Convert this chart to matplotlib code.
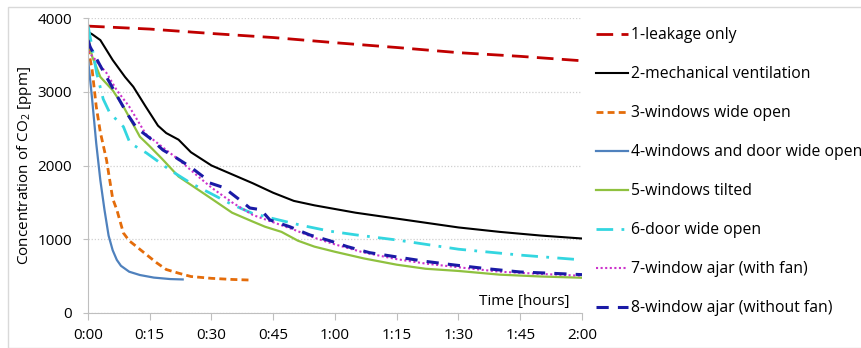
import matplotlib
matplotlib.use("Agg")
import matplotlib.pyplot as plt
from matplotlib.patches import Rectangle

plt.rcParams['font.family'] = ['Open Sans', 'DejaVu Sans']
plt.rcParams['mathtext.fontset'] = 'custom'
plt.rcParams['mathtext.rm'] = 'Open Sans'

# time in minutes, CO2 in ppm
t1 = [0, 15, 30, 45, 60, 75, 90, 105, 120]
v1 = [3890, 3850, 3790, 3735, 3665, 3600, 3530, 3480, 3420]

t2 = [0, 1, 3, 6, 9, 11, 14, 17, 19, 22, 25, 30, 35, 40, 45, 50, 55, 60, 65, 70, 75, 80, 90, 100, 110, 120]
v2 = [3810, 3780, 3700, 3430, 3200, 3068, 2800, 2540, 2440, 2350, 2180, 2000, 1880, 1760, 1630, 1520, 1460, 1410, 1360, 1320, 1280, 1240, 1160, 1100, 1050, 1010]

t3 = [0, 1, 2, 3, 4.5, 6, 7, 8.6, 10, 11.8, 14, 16.7, 19, 22, 25, 30, 35, 39.3]
v3 = [3600, 3300, 2800, 2450, 2075, 1550, 1400, 1085, 980, 900, 800, 680, 590, 540, 495, 470, 455, 447]

t4 = [0, 1, 2, 3, 4, 5, 6, 7, 8, 10, 12.6, 16, 20, 23]
v4 = [3450, 2900, 2300, 1800, 1400, 1050, 850, 720, 640, 560, 515, 480, 460, 455]

t5 = [0, 1, 3, 6, 8.6, 12.6, 15, 18, 22, 26, 30, 35, 40, 43, 47, 51, 55, 60, 67, 75, 82, 90, 100, 110, 120]
v5 = [3750, 3480, 3200, 3020, 2800, 2390, 2260, 2090, 1850, 1700, 1550, 1360, 1240, 1170, 1100, 980, 900, 830, 740, 655, 600, 570, 520, 495, 478]

t6 = [0, 1, 2.1, 3.7, 5.3, 8.6, 10.2, 14.2, 19.9, 25, 29.6, 35, 40, 45, 51.5, 58.7, 65, 75, 90, 105, 120]
v6 = [3900, 3600, 3254, 2900, 2712, 2526, 2305, 2170, 1939, 1760, 1627, 1470, 1350, 1280, 1193, 1110, 1060, 990, 865, 785, 720]

t7 = [0, 2, 4.5, 7, 10, 14, 19, 22, 27, 30, 35, 40, 45, 50, 55, 60, 67, 75, 82, 90, 100, 110, 120]
v7 = [3550, 3420, 3254, 3020, 2800, 2430, 2210, 2080, 1840, 1700, 1500, 1330, 1230, 1130, 1020, 930, 820, 730, 670, 620, 560, 530, 505]

t8 = [0, 0.5, 3, 6, 9.4, 11.8, 15, 18.2, 21.5, 24.8, 28, 29.6, 33, 36.9, 39.3, 42, 44.2, 49, 53.9, 58.7, 63, 68.4, 75, 82, 89, 97, 105, 112, 120]
v8 = [3700, 3610, 3350, 3050, 2712, 2509, 2373, 2210, 2102, 1984, 1848, 1763, 1700, 1532, 1424, 1400, 1261, 1170, 1058, 980, 900, 818, 760, 700, 651, 600, 556, 540, 520]

labels = ["1-leakage only", "2-mechanical ventilation", "3-windows wide open",
          "4-windows and door wide open", "5-windows tilted", "6-door wide open",
          "7-window ajar (with fan)", "8-window ajar (without fan)"]

xticks = [0, 15, 30, 45, 60, 75, 90, 105, 120]
xticklabels = ["0:00", "0:15", "0:30", "0:45", "1:00", "1:15", "1:30", "1:45", "2:00"]
yticks = [0, 1000, 2000, 3000, 4000]

fig = plt.figure(figsize=(8.62, 3.48), dpi=100)
ax = fig.add_axes([88/862, 35/348, 494/862, 295/348])

ax.plot(t1, v1, color='#c00000', lw=2.0, dashes=(6, 3), label=labels[0])
ax.plot(t2, v2, color='#000000', lw=1.5, label=labels[1])
ax.plot(t3, v3, color='#e46c0a', lw=2.0, dashes=(2.5, 1.5), label=labels[2])
ax.plot(t4, v4, color='#4f81bd', lw=1.6, label=labels[3])
ax.plot(t5, v5, color='#8fc13f', lw=1.6, label=labels[4])
ax.plot(t6, v6, color='#33d6e0', lw=2.0, dashes=(6, 3, 1, 3), label=labels[5])
ax.plot(t7, v7, color='#cc33cc', lw=1.5, dashes=(1, 1.2), label=labels[6])
ax.plot(t8, v8, color='#1a1aa6', lw=2.2, dashes=(4, 3), label=labels[7])

ax.set_xlim(0, 120)
ax.set_ylim(0, 4000)
ax.set_xticks(xticks)
ax.set_xticklabels(xticklabels)
ax.set_yticks(yticks)
ax.tick_params(axis='both', labelsize=11, colors='#bfbfbf', labelcolor='#000000', direction='out')
ax.tick_params(axis='x', length=5, pad=6)
ax.tick_params(axis='y', length=3.5, pad=8)
for s in ['top', 'right']:
    ax.spines[s].set_visible(False)
for s in ['left', 'bottom']:
    ax.spines[s].set_color('#bfbfbf')
ax.yaxis.grid(True, color='#d0d0d0', linestyle=(0, (1, 1.5)), lw=0.9)
ax.set_axisbelow(True)

ax.set_ylabel("Concentration of CO$_2$ [ppm]", fontsize=11)
ax.yaxis.set_label_coords(-0.11, 0.5)
ax.text(117, 150, "Time [hours]", fontsize=11, ha='right', va='center')

leg = fig.legend(loc='upper left', bbox_to_anchor=(596/862, 1 - 27/348), frameon=False,
                 fontsize=11.3, handlelength=2.05, handletextpad=0.15, labelspacing=1.47,
                 borderaxespad=0, borderpad=0)

fig.patches.append(Rectangle((8/862, 0), 1, 1 - 7/348, transform=fig.transFigure,
                             fill=False, edgecolor='#d9d9d9', lw=1.0))

fig.savefig("out.png", dpi=100)
